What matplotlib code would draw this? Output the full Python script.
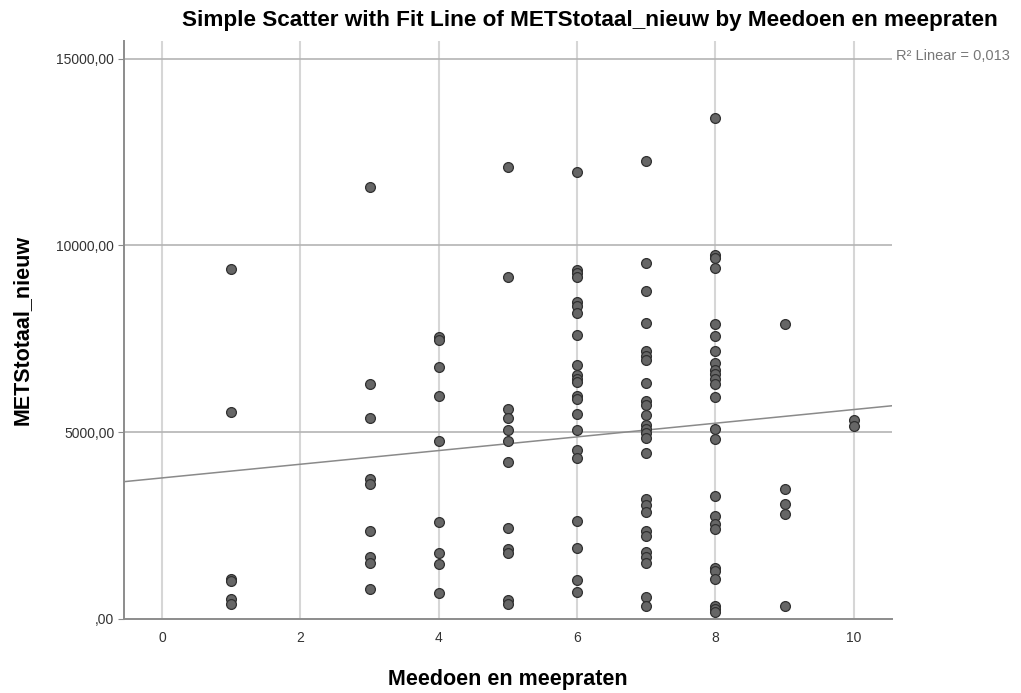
import numpy as np
import matplotlib
matplotlib.use("Agg")
import matplotlib.pyplot as plt
from matplotlib.ticker import FuncFormatter

plt.rcParams['font.family'] = ['Liberation Sans', 'DejaVu Sans']

# Values, grouped per x category
x_cats = [1, 3, 4, 5, 6, 7, 8, 9, 10]
y_by_cat = [
    [9380, 5530, 1060, 1020, 540, 400],
    [11560, 6300, 5380, 3750, 3620, 2360, 1650, 1500, 800],
    [7560, 7470, 6750, 5960, 4755, 2595, 1760, 1470, 690],
    [12100, 9150, 5630, 5390, 5070, 4770, 4190, 2440, 1870, 1760, 500, 390],
    [11970, 9340, 9250, 9150, 8480, 8390, 8200, 7610, 6800, 6520, 6430, 6340,
     5980, 5890, 5480, 5070, 4510, 4320, 2620, 1890, 1050, 720],
    [12270, 9530, 8780, 7920, 7160, 7050, 6930, 6320, 5840, 5730, 5450,
     5180, 5090, 4980, 4850, 4430, 3210, 3060, 2870, 2350, 2210, 1800,
     1670, 1490, 580, 350],
    [13420, 9730, 9650, 9400, 7890, 7570, 7160, 6860, 6660, 6550, 6430,
     6300, 5930, 5090, 4820, 3280, 2760, 2530, 2400, 1360, 1280, 1075,
     350, 260, 195],
    [7900, 3485, 3075, 2805, 355],
    [5320, 5165],
]

# fit line
fit_intercept = 3776
fit_slope = 183
r2_text = "R² Linear = 0,013"

x = np.concatenate([[c] * len(v) for c, v in zip(x_cats, y_by_cat)])
y = np.concatenate(y_by_cat)

fig = plt.figure(figsize=(10.21, 6.93), dpi=100)
ax = fig.add_axes([0.1214, 0.1068, 0.7520, 0.834])

ax.set_xlim(-0.55, 10.55)
ax.set_ylim(0, 15470)

ax.set_xticks([0, 2, 4, 6, 8, 10])
ax.set_yticks([0, 5000, 10000, 15000])
ax.yaxis.set_major_formatter(FuncFormatter(
    lambda v, p: ",00" if v == 0 else f"{int(v)},00"))

# grid lines
for xv in [0, 2, 4, 6, 8, 10]:
    ax.axvline(xv, color="#d6d6d6", lw=1.5, zorder=0)
for yv in [5000, 10000, 15000]:
    ax.axhline(yv, color="#b4b4b4", lw=1.2, zorder=0)

# fit line
xl = np.array(ax.get_xlim())
ax.plot(xl, fit_intercept + fit_slope * xl, color="#8a8a8a", lw=1.1, zorder=1)

ax.scatter(x, y, s=50, c="#666666", edgecolors="#303030", linewidths=0.9, zorder=3)

for s in ["top", "right"]:
    ax.spines[s].set_visible(False)
for s in ["left", "bottom"]:
    ax.spines[s].set_color("#8c8c8c")
    ax.spines[s].set_linewidth(1.4)

ax.tick_params(axis="x", length=0, pad=9, labelsize=10, labelcolor="#333333")
ax.tick_params(axis="y", length=4, color="#8c8c8c", pad=3, labelsize=10, labelcolor="#333333")

ax.set_xlabel("Meedoen en meepraten", fontsize=15.5, fontweight="bold", labelpad=17)
ax.set_ylabel("METStotaal_nieuw", fontsize=15.5, fontweight="bold", labelpad=17)
fig.text(0.578, 0.970, "Simple Scatter with Fit Line of METStotaal_nieuw by Meedoen en meepraten",
         ha="center", va="center", fontsize=16.2, fontweight="bold")

# R2 label outside the plot area
ax.text(10.61, 15080, r2_text, fontsize=10.5, color="#777777", ha="left", va="center",
        clip_on=False)

plt.savefig("out.png", dpi=100)
